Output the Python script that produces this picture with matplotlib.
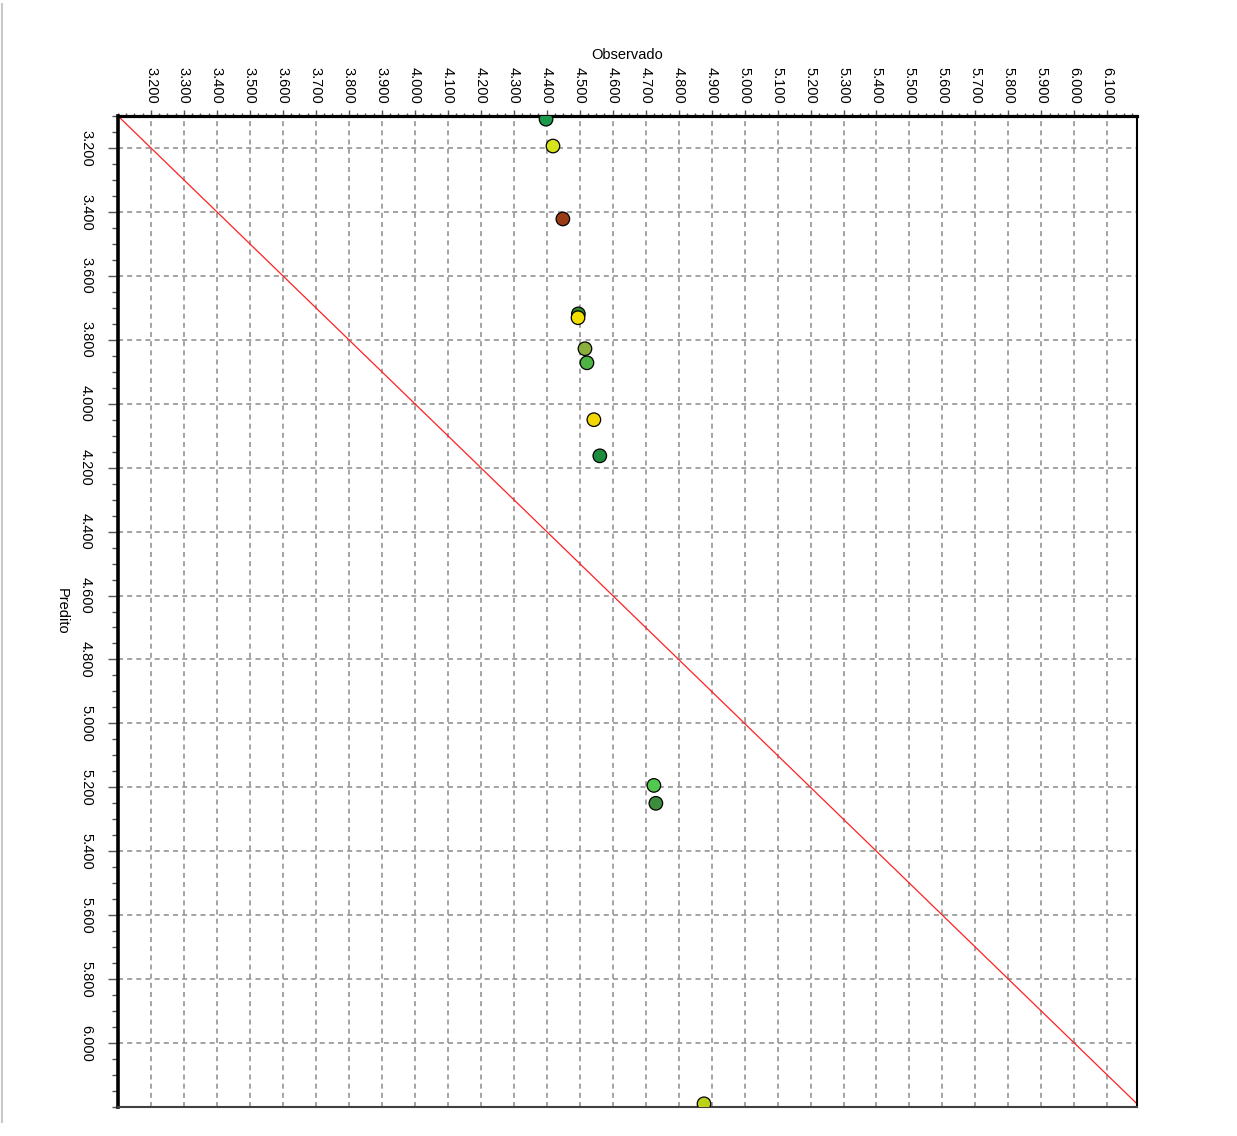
import matplotlib.pyplot as plt
from matplotlib.lines import Line2D
from matplotlib.ticker import FixedLocator, MultipleLocator, FormatStrFormatter

# ── Data ───────────────────────────────────────────────────────────────
observado = [4.398, 4.419, 4.449, 4.496, 4.495, 4.516, 4.522, 4.543, 4.561, 4.725, 4.731, 4.877]
predito   = [3.110, 3.194, 3.422, 3.719, 3.731, 3.828, 3.872, 4.050, 4.163, 5.194, 5.250, 6.190]
cores     = ["#1b9a4b", "#d6e21c", "#9a3c16", "#2f8a2a", "#f2df00", "#8cae3c",
             "#4fb443", "#f2d800", "#1d8c3c", "#52c84e", "#3c8c3c", "#bcd21a"]

x_ticks = [round(3.2 + 0.1 * i, 1) for i in range(30)]    # 3.200 ... 6.100
y_ticks = [round(3.2 + 0.2 * i, 1) for i in range(15)]    # 3.200 ... 6.000
x_range = (3.1, 6.19)
y_range = (6.2, 3.1)   # invertido: cresce para baixo
linha_ref = [3.1, 6.2]

plt.rcParams["font.family"] = ["Liberation Sans", "DejaVu Sans"]

fig = plt.figure(figsize=(12.37, 11.36), dpi=100)
ax = fig.add_axes([118 / 1237, 1 - 1107 / 1136, 1019 / 1237, 991 / 1136])

# grid
for xv in x_ticks:
    ax.axvline(xv, color="#939393", lw=1.2, ls=(0, (3, 2.5)), zorder=1)
for yv in y_ticks:
    ax.axhline(yv, color="#939393", lw=1.2, ls=(0, (3, 2.5)), zorder=1)

# linha 1:1
ax.plot(linha_ref, linha_ref, color="#ff2020", lw=0.9, zorder=2)

# pontos
ax.scatter(observado, predito, s=95, c=cores, edgecolors="black",
           linewidths=0.9, zorder=3)

ax.set_xlim(*x_range)
ax.set_ylim(*y_range)

# eixo x no topo
ax.xaxis.tick_top()
ax.xaxis.set_label_position("top")
ax.xaxis.set_major_locator(FixedLocator(x_ticks))
ax.xaxis.set_minor_locator(MultipleLocator(0.025))
ax.xaxis.set_major_formatter(FormatStrFormatter("%.3f"))
ax.yaxis.set_major_locator(FixedLocator(y_ticks))
ax.yaxis.set_minor_locator(MultipleLocator(0.05))
ax.yaxis.set_major_formatter(FormatStrFormatter("%.3f"))

ax.tick_params(axis="x", which="major", length=4.3, width=1, pad=4.3,
               labelsize=10.5, labelrotation=270, color="#555555")
ax.tick_params(axis="x", which="minor", length=2.2, width=1, color="#555555")
ax.tick_params(axis="y", which="major", length=7.2, width=1, pad=10.8,
               labelsize=10.5, labelrotation=270, color="#555555")
ax.tick_params(axis="y", which="minor", length=4.3, width=1, color="#555555")
for lbl in ax.get_yticklabels():
    lbl.set_va("center")

ax.set_xlabel("Observado", fontsize=10.5, labelpad=6)
ax.set_ylabel("Predito", fontsize=10.5, rotation=270, va="center", ha="center")
ax.yaxis.set_label_coords((62 - 118) / 1019, 0.5)

ax.spines["top"].set_linewidth(2.3)
ax.spines["left"].set_linewidth(2.6)
ax.spines["right"].set_linewidth(1.5)
ax.spines["bottom"].set_linewidth(1.5)
ax.spines["bottom"].set_color("#404040")

# borda cinza à esquerda
fig.add_artist(Line2D([1.5 / 1237, 1.5 / 1237], [1 - 4 / 1136, 1 - 1122 / 1136],
                      transform=fig.transFigure, color="#c8c8c8", lw=1.5))

plt.savefig("out.png", dpi=100)
